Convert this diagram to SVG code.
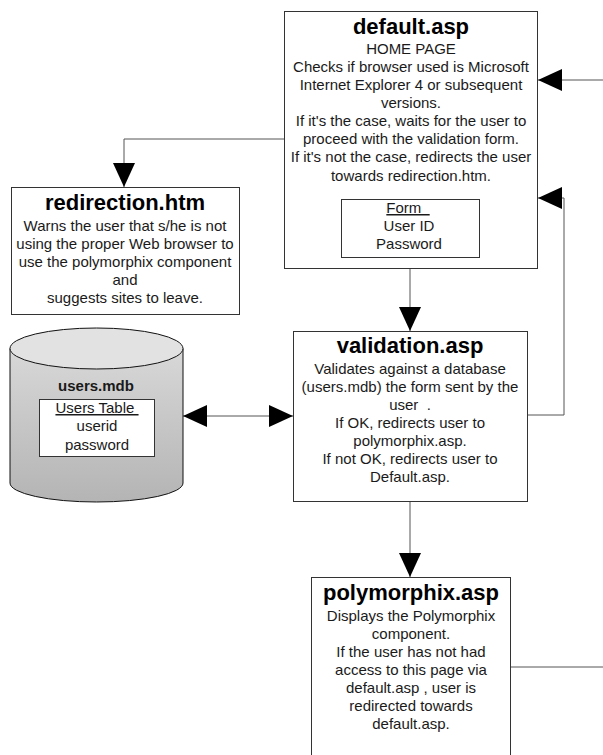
<svg xmlns="http://www.w3.org/2000/svg" width="603" height="755" viewBox="0 0 603 755">
<style>
.box{fill:#fff;stroke:#333;stroke-width:1}
.ln{fill:none;stroke:#555;stroke-width:1}
.t{font-family:"Liberation Sans",Arial,sans-serif;font-size:22px;font-weight:bold;text-anchor:middle;fill:#000}
.b{font-family:"Liberation Sans",Arial,sans-serif;font-size:15px;text-anchor:middle;fill:#1a1a1a}
.u{text-decoration:underline}
</style>
<defs>
<marker id="ah" markerUnits="userSpaceOnUse" markerWidth="24" markerHeight="22" refX="24" refY="11" orient="auto">
<path d="M0,0 L24,11 L0,22 Z" fill="#000"/>
</marker>
<marker id="ahs" markerUnits="userSpaceOnUse" markerWidth="24" markerHeight="22" refX="24" refY="11" orient="auto-start-reverse">
<path d="M0,0 L24,11 L0,22 Z" fill="#000"/>
</marker>
<linearGradient id="cyl" x1="0" y1="0" x2="0" y2="1">
<stop offset="0" stop-color="#d8d8d8"/>
<stop offset="1" stop-color="#b4b4b4"/>
</linearGradient>
</defs>

<g id="connectors">
<path class="ln" d="M603,80 L538,80" marker-end="url(#ah)"/>
<path class="ln" d="M284,139 L124,139 L124,187" marker-end="url(#ah)"/>
<path class="ln" d="M410,268 L410,331" marker-end="url(#ah)"/>
<path class="ln" d="M527,415 L564,415 L564,198 L538,198" marker-end="url(#ah)"/>
<path class="ln" d="M183,416 L293,416" marker-start="url(#ahs)" marker-end="url(#ah)"/>
<path class="ln" d="M410,501 L410,577" marker-end="url(#ah)"/>
<path class="ln" d="M510,667 L603,667"/>
</g>

<g id="default">
<rect class="box" x="284.5" y="11.5" width="253" height="257"/>
<text class="t" x="411" y="34">default.asp</text>
<text class="b" x="411" y="54">HOME PAGE</text>
<text class="b" x="411" y="72">Checks if browser used is Microsoft</text>
<text class="b" x="411" y="90">Internet Explorer 4 or subsequent</text>
<text class="b" x="411" y="108">versions.</text>
<text class="b" x="411" y="126">If it's the case, waits for the user to</text>
<text class="b" x="411" y="144">proceed with the validation form.</text>
<text class="b" x="411" y="162">If it's not the case, redirects the user</text>
<text class="b" x="411" y="181">towards redirection.htm.</text>
<rect class="box" x="341.5" y="199.5" width="138" height="58"/>
<text class="b u" x="408" y="213" xml:space="preserve">Form  </text>
<text class="b" x="409" y="231">User ID</text>
<text class="b" x="409" y="249">Password</text>
</g>

<g id="redirection">
<rect class="box" x="11.5" y="187.5" width="228" height="127"/>
<text class="t" x="125" y="210">redirection.htm</text>
<text class="b" x="125" y="231">Warns the user that s/he is not</text>
<text class="b" x="125" y="249">using the proper Web browser to</text>
<text class="b" x="125" y="267">use the polymorphix component</text>
<text class="b" x="125" y="285">and</text>
<text class="b" x="125" y="303">suggests sites to leave.</text>
</g>

<g id="users">
<path d="M10,348.5 L10,483 A86.5,19 0 0 0 183,483 L183,348.5 Z" fill="url(#cyl)" stroke="#111" stroke-width="1"/>
<ellipse cx="96.5" cy="348.5" rx="86.5" ry="20.5" fill="#e2e2e2" stroke="#111" stroke-width="1"/>
<text class="b" x="96" y="391" style="font-weight:bold">users.mdb</text>
<rect class="box" x="39.5" y="399.5" width="115" height="57"/>
<text class="b u" x="97" y="413" xml:space="preserve">Users Table </text>
<text class="b" x="97" y="431">userid</text>
<text class="b" x="97" y="450">password</text>
</g>

<g id="validation">
<rect class="box" x="293.5" y="331.5" width="234" height="170"/>
<text class="t" x="410" y="353">validation.asp</text>
<text class="b" x="410" y="374">Validates against a database</text>
<text class="b" x="410" y="392">(users.mdb) the form sent by the</text>
<text class="b" x="410" y="410" xml:space="preserve">user  .</text>
<text class="b" x="410" y="428">If OK, redirects user to</text>
<text class="b" x="410" y="446">polymorphix.asp.</text>
<text class="b" x="410" y="464">If not OK, redirects user to</text>
<text class="b" x="410" y="482">Default.asp.</text>
</g>

<g id="polymorphix">
<rect class="box" x="311.5" y="577.5" width="199" height="190"/>
<text class="t" x="411" y="600">polymorphix.asp</text>
<text class="b" x="411" y="621">Displays the Polymorphix</text>
<text class="b" x="411" y="639">component.</text>
<text class="b" x="411" y="657">If the user has not had</text>
<text class="b" x="411" y="675">access to this page via</text>
<text class="b" x="411" y="693">default.asp , user is</text>
<text class="b" x="411" y="711">redirected towards</text>
<text class="b" x="411" y="729">default.asp.</text>
</g>
</svg>
